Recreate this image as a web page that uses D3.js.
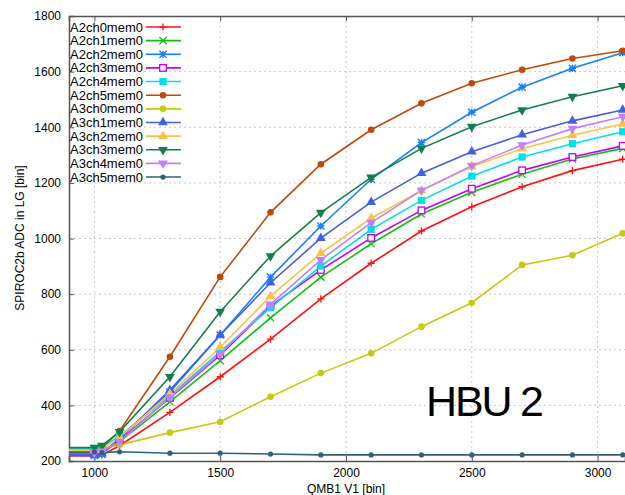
<!DOCTYPE html>
<html>
  <head>
    <meta charset="utf-8">
    <title>HBU 2</title>
    <script src="https://d3js.org/d3.v7.min.js"></script>
    <style>
      body { margin: 0; background: #fff; }
      text { font-family: "Liberation Sans", Arial, sans-serif; }
    </style>
  </head>
  <body>
    <svg width="625" height="495"></svg>

    <script>
      // QMB1 V1 settings (800 is off-plot, only keeps the flat start)
      const xValues = [800, 1000, 1030, 1100, 1300, 1500, 1700, 1900, 2100, 2300, 2500, 2700, 2900, 3100];

      const names = ["A2ch0mem0", "A2ch1mem0", "A2ch2mem0", "A2ch3mem0", "A2ch4mem0", "A2ch5mem0",
                     "A3ch0mem0", "A3ch1mem0", "A3ch2mem0", "A3ch3mem0", "A3ch4mem0", "A3ch5mem0"];
      const colors = ["#ff1010", "#10c010", "#1080ff", "#c000ff", "#00e0e8", "#c04808",
                      "#c8c810", "#4060e0", "#ffc040", "#108048", "#c080ff", "#306080"];
      const symbols = ["plus", "cross", "star", "opensquare", "square", "circle",
                       "circle", "triangle", "triangle", "tridown", "tridown", "dot"];

      const A2ch0 = [218, 218, 222, 255, 375, 503, 638, 783, 911, 1027, 1114, 1186, 1244, 1285];
      const A2ch1 = [225, 225, 230, 270, 413, 561, 715, 861, 981, 1088, 1166, 1231, 1286, 1324];
      const A2ch2 = [220, 220, 224, 282, 448, 653, 861, 1045, 1213, 1345, 1454, 1544, 1612, 1668];
      const A2ch3 = [228, 228, 232, 275, 427, 581, 757, 887, 1002, 1101, 1179, 1245, 1293, 1333];
      const A2ch4 = [245, 245, 250, 290, 434, 593, 751, 901, 1033, 1137, 1224, 1293, 1341, 1384];
      const A2ch5 = [240, 240, 248, 308, 575, 862, 1094, 1267, 1391, 1486, 1558, 1607, 1647, 1675];
      const A3ch0 = [240, 240, 245, 258, 302, 341, 431, 516, 587, 683, 769, 905, 940, 1019];
      const A3ch1 = [222, 222, 226, 280, 455, 653, 841, 1001, 1131, 1235, 1312, 1373, 1423, 1462];
      const A3ch2 = [238, 238, 242, 285, 441, 609, 793, 947, 1073, 1173, 1258, 1323, 1371, 1412];
      const A3ch3 = [248, 248, 255, 305, 503, 737, 937, 1093, 1220, 1324, 1402, 1462, 1510, 1549];
      const A3ch4 = [230, 230, 235, 270, 430, 585, 763, 923, 1057, 1173, 1262, 1336, 1395, 1438];
      const A3ch5 = [232, 232, 230, 233, 228, 228, 225, 222, 222, 222, 222, 222, 222, 222];
      const seriesValues = [A2ch0, A2ch1, A2ch2, A2ch3, A2ch4, A2ch5, A3ch0, A3ch1, A3ch2, A3ch3, A3ch4, A3ch5];

      const xTicks = [1000, 1500, 2000, 2500, 3000];
      const yTicks = [200, 400, 600, 800, 1000, 1200, 1400, 1600, 1800];

      const svg = d3.select("svg");
      const mLeft = 69, mRight = 625, mTop = 16, mBottom = 461;

      const x = d3.scaleLinear().domain([899, 3109]).range([mLeft, mRight]);
      const y = d3.scaleLinear().domain([200, 1800]).range([mBottom, mTop]);

      svg.append("clipPath").attr("id", "plot")
        .append("rect").attr("x", mLeft).attr("y", mTop)
        .attr("width", mRight - mLeft).attr("height", mBottom - mTop);

      // grid
      svg.append("g").selectAll("line").data(xTicks).enter().append("line")
        .attr("x1", d => x(d)).attr("x2", d => x(d)).attr("y1", mTop).attr("y2", mBottom)
        .attr("stroke", "#c8c8c8").attr("stroke-dasharray", "2,3");
      svg.append("g").selectAll("line").data(yTicks.slice(1, -1)).enter().append("line")
        .attr("x1", mLeft).attr("x2", mRight).attr("y1", d => y(d)).attr("y2", d => y(d))
        .attr("stroke", "#c8c8c8").attr("stroke-dasharray", "2,3");

      // axes (ticks pointing inward)
      const yAxis = svg.append("g").attr("transform", `translate(${mLeft},0)`)
        .call(d3.axisLeft(y).tickValues(yTicks).tickSize(-5).tickPadding(8).tickFormat(d3.format("d")));
      const xAxis = svg.append("g").attr("transform", `translate(0,${mBottom})`)
        .call(d3.axisBottom(x).tickValues(xTicks).tickSize(-5).tickPadding(7).tickFormat(d3.format("d")));
      const xTop = svg.append("g").attr("transform", `translate(0,${mTop})`)
        .call(d3.axisTop(x).tickValues(xTicks).tickSize(-5).tickFormat(""));
      [yAxis, xAxis, xTop].forEach(g => {
        g.select(".domain").attr("stroke", "#555").attr("stroke-width", 1.5);
        g.selectAll(".tick line").attr("stroke", "#555");
        g.selectAll(".tick text").attr("font-size", 12).attr("fill", "#000")
          .attr("font-family", "'Liberation Sans', Arial, sans-serif");
      });

      svg.append("text").attr("transform", "translate(24,238) rotate(-90)")
        .attr("text-anchor", "middle").attr("font-size", 12).text("SPIROC2b ADC in LG [bin]");
      svg.append("text").attr("x", 346).attr("y", 493)
        .attr("text-anchor", "middle").attr("font-size", 12).text("QMB1 V1 [bin]");

      function marker(g, type, color) {
        const s = 3.6;
        if (type === "plus") {
          g.append("path").attr("d", `M${-s},0H${s}M0,${-s}V${s}`).attr("stroke", color).attr("stroke-width", 1.3);
        } else if (type === "cross") {
          g.append("path").attr("d", `M${-s},${-s}L${s},${s}M${-s},${s}L${s},${-s}`).attr("stroke", color).attr("stroke-width", 1.3);
        } else if (type === "star") {
          g.append("path").attr("d", `M${-s},0H${s}M0,${-s}V${s}M${-s},${-s}L${s},${s}M${-s},${s}L${s},${-s}`)
            .attr("stroke", color).attr("stroke-width", 1.4);
        } else if (type === "opensquare") {
          g.append("rect").attr("x", -3.3).attr("y", -3.3).attr("width", 6.6).attr("height", 6.6)
            .attr("fill", "#fff").attr("stroke", color).attr("stroke-width", 1.3);
        } else if (type === "square") {
          g.append("rect").attr("x", -3.6).attr("y", -3.6).attr("width", 7.2).attr("height", 7.2).attr("fill", color);
        } else if (type === "circle") {
          g.append("circle").attr("r", 3.3).attr("fill", color);
        } else if (type === "dot") {
          g.append("circle").attr("r", 2.6).attr("fill", color);
        } else if (type === "triangle") {
          g.append("path").attr("d", d3.symbol(d3.symbolTriangle, 42)).attr("fill", color);
        } else if (type === "tridown") {
          g.append("path").attr("d", d3.symbol(d3.symbolTriangle, 42)).attr("transform", "rotate(180)").attr("fill", color);
        }
      }

      const line = d3.line().x((d, i) => x(xValues[i])).y(d => y(d));
      const plot = svg.append("g").attr("clip-path", "url(#plot)");

      seriesValues.forEach((vals, k) => {
        plot.append("path").datum(vals).attr("d", line)
          .attr("fill", "none").attr("stroke", colors[k]).attr("stroke-width", 1.6);
      });
      seriesValues.forEach((vals, k) => {
        vals.forEach((v, i) => {
          const g = plot.append("g").attr("transform", `translate(${x(xValues[i])},${y(v)})`);
          marker(g, symbols[k], colors[k]);
        });
      });

      // legend
      const legend = svg.append("g");
      names.forEach((n, k) => {
        const yy = 27 + k * 13.64;
        legend.append("text").attr("x", 70).attr("y", yy + 4.5).attr("font-size", 13).text(n);
        legend.append("line").attr("x1", 146).attr("x2", 181).attr("y1", yy).attr("y2", yy)
          .attr("stroke", colors[k]).attr("stroke-width", 1.6);
        marker(legend.append("g").attr("transform", `translate(163,${yy})`), symbols[k], colors[k]);
      });

      svg.append("text").attr("x", 426).attr("y", 416).attr("font-size", 43)
        .attr("font-family", "'Open Sans', sans-serif").attr("textLength", 118).text("HBU 2");
    </script>
  </body>
</html>
